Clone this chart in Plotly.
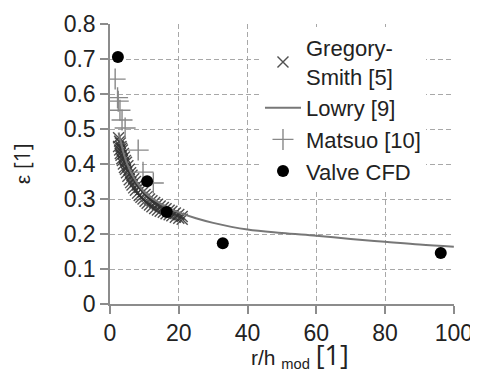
import plotly.graph_objects as go

# Gregory-Smith [5] (crosses)
gs_x = [2.5, 2.8, 3.0, 3.2, 3.4, 3.6, 3.9, 4.2, 4.5, 4.8, 5.2, 5.6, 6.0, 6.4, 6.9, 7.4, 8.0, 8.5,
        9.0, 9.6, 10.2, 10.8, 11.5, 12.2, 13.0, 13.8, 14.6, 15.5, 16.3, 17.2, 18.0, 19.0, 20.0, 21.0]
gs_y = [0.475, 0.465, 0.46, 0.45, 0.445, 0.44, 0.43, 0.42, 0.41, 0.405, 0.395, 0.385, 0.375, 0.368,
        0.358, 0.35, 0.34, 0.333, 0.327, 0.32, 0.313, 0.307, 0.3, 0.295, 0.29, 0.285, 0.28, 0.276,
        0.272, 0.268, 0.265, 0.26, 0.256, 0.25]
gs_y2 = [0.45, 0.44, 0.43, 0.425, 0.415, 0.41, 0.4, 0.39, 0.385, 0.375, 0.365, 0.355, 0.347, 0.34,
         0.332, 0.325, 0.317, 0.31, 0.305, 0.3, 0.294, 0.288, 0.283, 0.278, 0.273, 0.269, 0.265,
         0.262, 0.258, 0.255, 0.252, 0.248, 0.245, 0.242]

# Lowry [9] (line)
lowry_x = [2.5, 3, 4, 5, 7, 10, 15, 20, 25, 30, 40, 50, 60, 70, 80, 90, 100]
lowry_y = [0.49, 0.47, 0.43, 0.40, 0.36, 0.32, 0.285, 0.262, 0.245, 0.232, 0.213, 0.203, 0.195,
           0.186, 0.178, 0.17, 0.164]

# Matsuo [10] (plus)
ma_x = [1.5, 2.2, 2.4, 2.9, 3.5, 4.4, 8.2, 9.6, 12.6]
ma_y = [0.643, 0.59, 0.58, 0.554, 0.526, 0.503, 0.44, 0.377, 0.346]

# Valve CFD (dots)
cfd_x = [2.3, 10.8, 16.5, 32.8, 96.2]
cfd_y = [0.706, 0.351, 0.263, 0.174, 0.146]

x_ticks = [0, 20, 40, 60, 80, 100]
y_ticks = [0, 0.1, 0.2, 0.3, 0.4, 0.5, 0.6, 0.7, 0.8]

FONT = "Arial, Liberation Sans, sans-serif"

fig = go.Figure()
fig.add_trace(go.Scatter(
    x=gs_x + gs_x, y=gs_y + gs_y2, mode="markers", name="Gregory-<br>Smith [5]",
    marker=dict(symbol="x-thin", size=11, line=dict(color="rgba(50,50,50,0.85)", width=1.4))))
fig.add_trace(go.Scatter(
    x=lowry_x, y=lowry_y, mode="lines", name="Lowry [9]",
    line=dict(color="#777777", width=2, shape="spline")))
fig.add_trace(go.Scatter(
    x=ma_x, y=ma_y, mode="markers", name="Matsuo [10]",
    marker=dict(symbol="cross-thin", size=15, line=dict(color="#888888", width=1.4))))
fig.add_trace(go.Scatter(
    x=cfd_x, y=cfd_y, mode="markers", name="Valve CFD",
    marker=dict(symbol="circle", size=12, color="black")))

axis_common = dict(
    showline=True, linecolor="#8c8c8c", linewidth=1.5, mirror=False, automargin=False,
    ticks="outside", ticklen=8, tickcolor="#8c8c8c", tickwidth=1.5,
    showgrid=True, gridcolor="#a8a8a8", griddash="5px,3px", gridwidth=1.3,
    zeroline=False, tickfont=dict(family=FONT, size=23, color="#222222"),
)
fig.update_xaxes(range=[0, 100.05], tickvals=x_ticks, ticktext=[str(v) for v in x_ticks],
                 **axis_common)
fig.update_yaxes(range=[0, 0.8005], tickvals=y_ticks,
                 ticktext=["0" if v == 0 else f"{v:.1f}" for v in y_ticks], **axis_common)

# page body has an 8px default margin, so the figure is 8px smaller and margins shifted
fig.update_layout(
    width=470, height=366,
    margin=dict(l=102, r=24, t=16, b=70, autoexpand=False),
    plot_bgcolor="white", paper_bgcolor="white",
    showlegend=True,
    legend=dict(x=0.436, y=0.99, xanchor="left", yanchor="top", bgcolor="white",
                font=dict(family=FONT, size=22, color="#222222"),
                itemwidth=36, tracegroupgap=0, borderwidth=0),
    annotations=[
        dict(text="ε <span style='font-family:Open Sans'>[1]</span>", xref="paper", yref="paper",
             x=-0.255, y=0.5, xanchor="center", yanchor="middle", textangle=-90,
             showarrow=False, font=dict(family=FONT, size=21, color="#222222")),
        dict(text="r/h <sub>mod</sub> <span style='font-family:Open Sans;font-size:27px'>[1]</span>",
             xref="paper", yref="paper", x=0.552, y=-0.18, xanchor="center", yanchor="middle",
             showarrow=False, font=dict(family=FONT, size=21, color="#222222")),
    ],
)

fig.write_html("out.html")
